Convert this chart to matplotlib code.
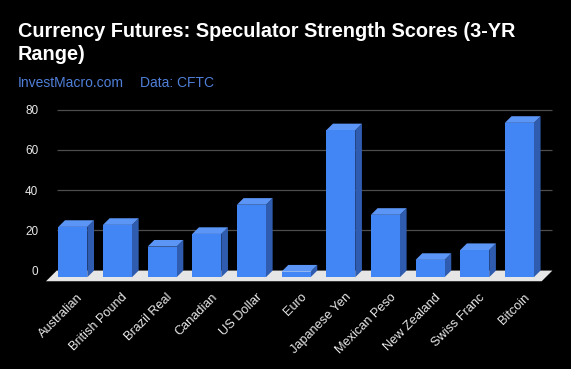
import matplotlib
matplotlib.use('Agg')
import matplotlib.pyplot as plt
from matplotlib.patches import Polygon

# data
currencies = ["Australian", "British Pound", "Brazil Real", "Canadian", "US Dollar", "Euro",
              "Japanese Yen", "Mexican Peso", "New Zealand", "Swiss Franc", "Bitcoin"]
scores = [25, 26, 15.2, 21.5, 36, 2.8, 73, 31, 8.6, 13.5, 76.7]
y_ticks = [0, 20, 40, 60, 80]

plt.rcParams['font.family'] = ['Liberation Sans', 'DejaVu Sans']

FRONT = "#4285f4"
TOP = "#5b95f6"
SIDE = "#2f5cae"

fig = plt.figure(figsize=(5.71, 3.69), dpi=100, facecolor="black")
ax = fig.add_axes([0.079, 0.234, 0.890, 0.480])
ax.set_facecolor("black")
ax.set_xlim(-0.62, 10.76)
ax.set_ylim(-6, 82)
for s in ax.spines.values():
    s.set_visible(False)

# 3d depth offsets (x in categories, y in score units)
dx, dy = 0.15, 3.3
half = 0.325
back_left, back_right = -0.36, 10.74

# gridlines on the back wall
ax.hlines(y_ticks[1:], back_left, back_right, color="#4d4d4d", lw=0.9, zorder=1)

# floor
fdx, fdy = 0.24, 5.3
floor = Polygon([(back_left, 0), (back_right, 0), (back_right - fdx, -fdy), (back_left - fdx, -fdy)],
                closed=True, facecolor="#e6e6e6", edgecolor="none", zorder=2)
ax.add_patch(floor)

for i, v in enumerate(scores):
    x0, x1 = i - half, i + half
    y0, y1 = -dy, v - dy
    side = Polygon([(x1, y0), (x1 + dx, y0 + dy), (x1 + dx, y1 + dy), (x1, y1)],
                   closed=True, facecolor=SIDE, edgecolor="none", zorder=3)
    top = Polygon([(x0, y1), (x1, y1), (x1 + dx, y1 + dy), (x0 + dx, y1 + dy)],
                  closed=True, facecolor=TOP, edgecolor="none", zorder=3)
    ax.add_patch(side)
    ax.add_patch(top)
    ax.bar(i, v, width=2 * half, bottom=y0, color=FRONT, zorder=4)
    ax.text(i + 0.095, -10.2, currencies[i], rotation=45, rotation_mode="anchor",
            ha="right", va="top", color="#e8e8e8", fontsize=9.2, clip_on=False)

ax.set_xticks([])
ax.set_yticks(y_ticks)
ax.set_yticklabels([str(t) for t in y_ticks], color="#e8e8e8", fontsize=8.5)
ax.tick_params(axis="y", length=0, pad=5)

fig.text(0.031, 1 - 36.7 / 369, "Currency Futures: Speculator Strength Scores (3-YR",
         color="white", fontsize=14.3, fontweight="bold", va="baseline")
fig.text(0.031, 1 - 60 / 369, "Range)",
         color="white", fontsize=14.3, fontweight="bold", va="baseline")
fig.text(0.031, 1 - 87.3 / 369, "InvestMacro.com", color="#4f7fd8", fontsize=10, va="baseline")
fig.text(140.5 / 571, 1 - 87.3 / 369, "Data: CFTC", color="#4f7fd8", fontsize=10, va="baseline")

fig.savefig("out.png", dpi=100, facecolor="black")
